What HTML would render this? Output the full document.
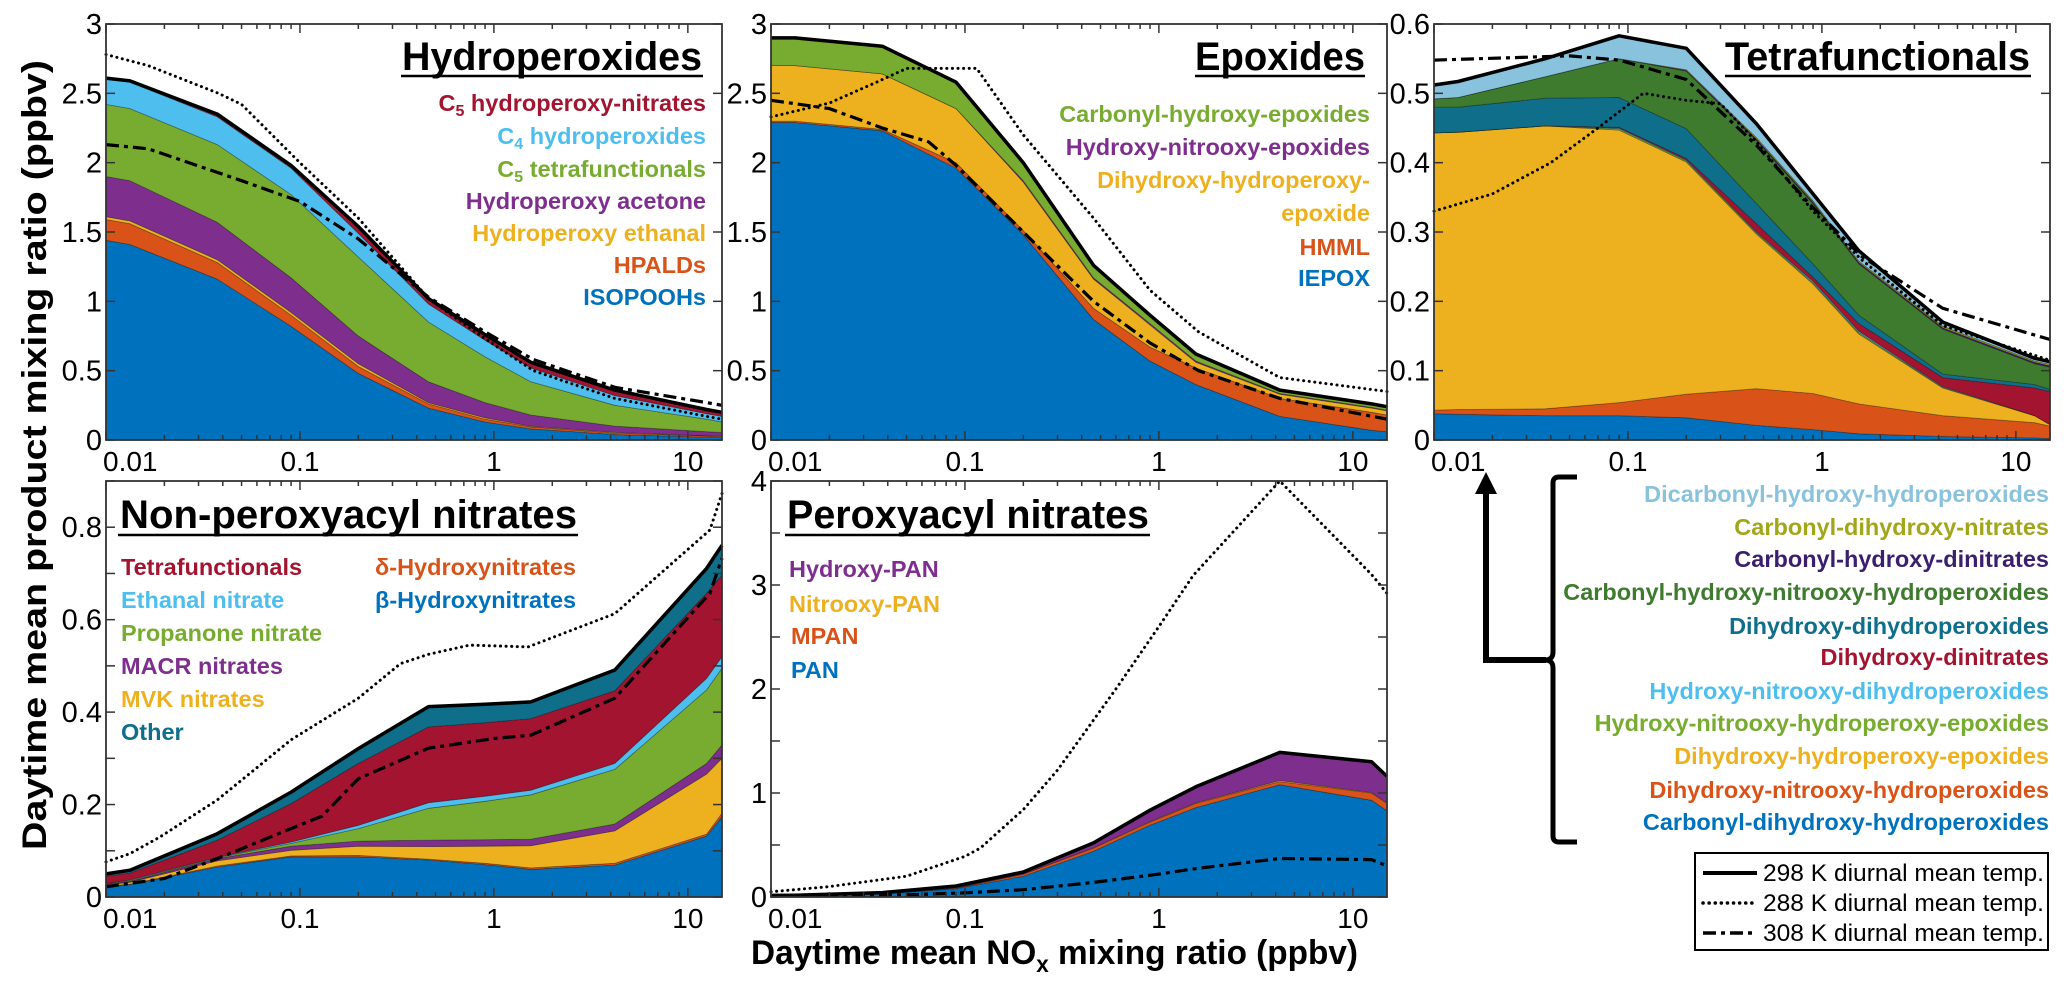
<!DOCTYPE html>
<html><head><meta charset="utf-8"><style>
html,body{margin:0;padding:0;background:#fff;}
svg{display:block;font-family:"Liberation Sans",sans-serif;}
</style></head><body>
<svg id="fig" width="2067" height="985" viewBox="0 0 2067 985" xmlns="http://www.w3.org/2000/svg">
<g id="layers"></g>
</svg>
<script>
// ---------- shared x grid (NOx, ppbv) ----------
const X = [0.01,0.0133,0.0375,0.09,0.2,0.46,0.9,1.55,4.2,12.5,15];
const xTickVals = [0.01,0.1,1,10];
const xTickLabels = ["0.01","0.1","1","10"];

// ---------- Panel 1: Hydroperoxides ----------
const hpIsopooh = [1.44,1.41,1.16,0.82,0.48,0.23,0.13,0.08,0.04,0.02,0.02];
const hpHpald   = [0.15,0.15,0.12,0.08,0.05,0.03,0.02,0.015,0.01,0.01,0.005];
const hpEthanal = [0.02,0.02,0.02,0.02,0.02,0.01,0.01,0.005,0.005,0.0,0.005];
const hpAcetone = [0.29,0.29,0.27,0.25,0.20,0.15,0.11,0.08,0.045,0.03,0.025];
const hpC5Tetra = [0.52,0.52,0.56,0.60,0.57,0.43,0.33,0.24,0.15,0.09,0.075];
const hpC4      = [0.18,0.19,0.20,0.19,0.17,0.13,0.12,0.10,0.07,0.04,0.04];
const hpC5Nitr  = [0.01,0.01,0.02,0.02,0.05,0.04,0.04,0.04,0.04,0.03,0.03];
const hpDotX = [0.01,0.0165,0.038,0.05,0.1,0.2,0.46,0.9,1.6,4.2,12.5,15];
const hpDotY = [2.78,2.70,2.50,2.42,2.00,1.60,1.02,0.73,0.50,0.30,0.17,0.15];
const hpDashX = [0.01,0.0165,0.0375,0.05,0.1,0.2,0.46,0.9,1.6,4.2,12.5,15];
const hpDashY = [2.13,2.10,1.93,1.87,1.72,1.45,1.03,0.78,0.58,0.38,0.27,0.25];
const hpYTicks = [0,0.5,1,1.5,2,2.5,3];
const hpYLabels = ["0","0.5","1","1.5","2","2.5","3"];

// ---------- Panel 2: Epoxides ----------
const epIepox = [2.29,2.29,2.23,1.96,1.48,0.87,0.57,0.40,0.17,0.07,0.06];
const epHmml  = [0.01,0.01,0.01,0.04,0.03,0.08,0.10,0.12,0.13,0.13,0.12];
const epDhhe  = [0.40,0.40,0.40,0.39,0.35,0.21,0.16,0.04,0.03,0.03,0.03];
const epHne   = [0,0,0,0,0.01,0.01,0.01,0.01,0.005,0.005,0.005];
const epChe   = [0.20,0.20,0.20,0.19,0.13,0.09,0.06,0.05,0.025,0.025,0.025];
const epDotX = [0.01,0.02,0.035,0.05,0.115,0.2,0.46,0.9,1.6,4.2,15];
const epDotY = [2.33,2.43,2.58,2.68,2.68,2.20,1.60,1.08,0.78,0.45,0.35];
const epDashX = [0.01,0.02,0.0375,0.065,0.09,0.2,0.46,0.9,1.6,4.2,15];
const epDashY = [2.45,2.39,2.25,2.15,1.98,1.50,1.00,0.70,0.50,0.30,0.15];
const epYTicks = [0,0.5,1,1.5,2,2.5,3];
const epYLabels = ["0","0.5","1","1.5","2","2.5","3"];

// ---------- Panel 3: Tetrafunctionals ----------
const tfCdhh = [0.038,0.037,0.035,0.035,0.032,0.021,0.015,0.009,0.005,0.003,0.002];
const tfDnhp = [0.005,0.007,0.010,0.019,0.034,0.053,0.052,0.043,0.030,0.022,0.018];
const tfDhhe = [0.400,0.400,0.408,0.393,0.335,0.223,0.158,0.101,0.040,0.010,0.002];
const tfHnhe = [0,0,0,0.002,0.002,0.002,0.002,0.002,0.001,0,0];
const tfHndh = [0,0,0,0.001,0.001,0.001,0.002,0.002,0.001,0,0];
const tfDhdn = [0,0,0,0.001,0.002,0.012,0.006,0.011,0.013,0.040,0.048];
const tfDhdh = [0.037,0.036,0.040,0.043,0.043,0.029,0.019,0.012,0.005,0.005,0.003];
const tfChnh = [0.012,0.014,0.031,0.056,0.083,0.091,0.087,0.074,0.065,0.030,0.032];
const tfChdn = [0,0,0,0,0.001,0.002,0.002,0.002,0.002,0.002,0.002];
const tfCdhn = [0,0,0,0,0.001,0.002,0.002,0.002,0.002,0.002,0.002];
const tfDchh = [0.020,0.023,0.026,0.033,0.031,0.020,0.010,0.015,0.006,0.004,0.004];
const tfDotX = [0.01,0.02,0.04,0.07,0.12,0.2,0.3,0.46,0.9,1.6,4.2,15];
const tfDotY = [0.33,0.355,0.40,0.45,0.50,0.49,0.485,0.43,0.33,0.26,0.165,0.115];
const tfDashX = [0.01,0.05,0.09,0.12,0.2,0.46,0.9,1.6,4.2,15];
const tfDashY = [0.548,0.554,0.548,0.538,0.52,0.425,0.335,0.265,0.19,0.145];
const tfYTicks = [0,0.1,0.2,0.3,0.4,0.5,0.6];
const tfYLabels = ["0","0.1","0.2","0.3","0.4","0.5","0.6"];

// ---------- Panel 4: Non-peroxyacyl nitrates ----------
const npBeta  = [0.022,0.027,0.065,0.087,0.087,0.080,0.070,0.060,0.069,0.132,0.174];
const npDelta = [0.001,0.001,0.002,0.002,0.003,0.002,0.003,0.003,0.004,0.004,0.007];
const npMvk   = [0.003,0.004,0.011,0.012,0.020,0.027,0.037,0.048,0.070,0.130,0.119];
const npMacr  = [0.002,0.002,0.005,0.009,0.011,0.014,0.014,0.014,0.015,0.023,0.029];
const npProp  = [0.001,0.002,0.002,0.006,0.027,0.069,0.083,0.096,0.118,0.159,0.166];
const npEth   = [0.0,0.001,0.001,0.003,0.007,0.012,0.011,0.010,0.013,0.025,0.025];
const npTetra = [0.016,0.015,0.037,0.083,0.134,0.164,0.159,0.155,0.157,0.184,0.176];
const npOther = [0.005,0.006,0.014,0.025,0.032,0.044,0.040,0.036,0.045,0.054,0.065];
const npDotX = [0.01,0.0133,0.019,0.0375,0.09,0.2,0.33,0.46,0.75,1.5,4.2,13,15];
const npDotY = [0.076,0.094,0.13,0.21,0.34,0.43,0.505,0.525,0.545,0.541,0.613,0.794,0.873];
const npDashX = [0.01,0.02,0.0375,0.09,0.13,0.2,0.46,1.0,1.55,4.2,13,15];
const npDashY = [0.022,0.04,0.083,0.148,0.175,0.256,0.322,0.343,0.35,0.43,0.657,0.733];
const npYTicks = [0,0.1,0.2,0.3,0.4,0.5,0.6,0.7,0.8,0.9];
const npYLabels = ["0","","0.2","","0.4","","0.6","","0.8",""];

// ---------- Panel 5: Peroxyacyl nitrates ----------
const paPan    = [0.01,0.012,0.03,0.08,0.20,0.44,0.69,0.86,1.08,0.93,0.83];
const paMpan   = [0,0,0.002,0.006,0.02,0.03,0.03,0.04,0.03,0.07,0.07];
const paNitro  = [0,0,0,0,0,0.003,0.005,0.005,0.01,0.005,0.005];
const paHydroxy= [0.005,0.005,0.01,0.02,0.02,0.047,0.11,0.155,0.27,0.295,0.255];
const paDotX = [0.01,0.02,0.05,0.1,0.12,0.2,0.3,0.6,1.0,1.5,4.2,12.5,15];
const paDotY = [0.05,0.10,0.20,0.39,0.47,0.84,1.22,2.0,2.6,3.09,4.0,3.1,2.92];
const paDashX = [0.01,0.05,0.1,0.2,0.46,1.0,1.5,4.2,12.5,15];
const paDashY = [0.01,0.02,0.04,0.07,0.14,0.22,0.27,0.37,0.36,0.30];
const paYTicks = [0,0.5,1,1.5,2,2.5,3,3.5,4];
const paYLabels = ["0","","1","","2","","3","","4"];

// ---------- rendering ----------
const NS = "http://www.w3.org/2000/svg";
const root = document.getElementById("layers");
const C = {blue:"#0072bd",orange:"#d95319",yellow:"#edb120",purple:"#7e2f8e",green:"#77ac30",
  lblue:"#4dbeee",red:"#a2142f",teal:"#0f6e8a",dgreen:"#3e7b2e",pale:"#89c2dc",olive:"#a2a619",dpurple:"#3b1e6e"};

function mk(tag, attrs, parent){
  const e = document.createElementNS(NS, tag);
  for (const k in attrs) e.setAttribute(k, attrs[k]);
  (parent||root).appendChild(e);
  return e;
}
function makeAxes(x0,y0,w,h,ymax){
  const lx0 = Math.log10(0.01), lx1 = Math.log10(15);
  return {
    sx: v => x0 + (Math.log10(v)-lx0)/(lx1-lx0)*w,
    sy: v => y0 + h - v/ymax*h,
    x0, y0, w, h
  };
}
function drawPanel(ax, name, layers, colors, dotX, dotY, dashX, dashY, yTicks, yLabels){
  const g = mk("g",{});
  
  
  let cum = X.map(()=>0);
  layers.forEach((L,i)=>{
    const lower = cum.slice();
    const upper = cum.map((c,j)=>c+L[j]);
    let pts = X.map((x,j)=>ax.sx(x).toFixed(1)+","+ax.sy(upper[j]).toFixed(1));
    for (let j=X.length-1;j>=0;j--) pts.push(ax.sx(X[j]).toFixed(1)+","+ax.sy(lower[j]).toFixed(1));
    const p = mk("polygon",{points:pts.join(" "),fill:colors[i],stroke:"rgba(0,0,0,0.35)","stroke-width":"0.8"},g);
    
    
    cum = upper;
  });
  const tot = mk("polyline",{points:X.map((x,j)=>ax.sx(x).toFixed(1)+","+ax.sy(cum[j]).toFixed(1)).join(" "),fill:"none",stroke:"#000","stroke-width":"3.5","stroke-linejoin":"round"},g);
  
  
  const dot = mk("polyline",{points:dotX.map((x,j)=>ax.sx(x).toFixed(1)+","+ax.sy(dotY[j]).toFixed(1)).join(" "),fill:"none",stroke:"#000","stroke-width":"3","stroke-dasharray":"0.1 5.5","stroke-linecap":"round"},g);
  
  
  const dash = mk("polyline",{points:dashX.map((x,j)=>ax.sx(x).toFixed(1)+","+ax.sy(dashY[j]).toFixed(1)).join(" "),fill:"none",stroke:"#000","stroke-width":"3.2","stroke-dasharray":"13 5 4 5"},g);
  
  
  const fr = mk("rect",{x:ax.x0,y:ax.y0,width:ax.w,height:ax.h,fill:"none",stroke:"#333","stroke-width":"1.8"},g);
  
  
  const tg = mk("g",{stroke:"#333","stroke-width":"1.5"},g);
  
  
  for (let d=-2; d<=1; d++){
    for (let k=1;k<=9;k++){
      const v = k*Math.pow(10,d);
      if (v>15.01) continue;
      const xx = ax.sx(v), L = k===1?9:5;
      mk("line",{x1:xx,x2:xx,y1:ax.y0+ax.h,y2:ax.y0+ax.h-L},tg);
      mk("line",{x1:xx,x2:xx,y1:ax.y0,y2:ax.y0+L},tg);
    }
  }
  yTicks.forEach(v=>{
    const yy = ax.sy(v);
    mk("line",{x1:ax.x0,x2:ax.x0+9,y1:yy,y2:yy},tg);
    mk("line",{x1:ax.x0+ax.w,x2:ax.x0+ax.w-9,y1:yy,y2:yy},tg);
  });
  xTickVals.forEach((v,i)=>{
    let xx = ax.sx(v), anchor="middle";
    if (i===0){ xx = ax.x0-3; anchor="start"; }
    const t = mk("text",{x:xx,y:ax.y0+ax.h+31,"font-size":"28","text-anchor":anchor,fill:"#000"},g);
    t.textContent = xTickLabels[i];
    
    
  });
  yTicks.forEach((v,i)=>{
    if (!yLabels[i]) return;
    const t = mk("text",{x:ax.x0-4,y:ax.sy(v)+10,"font-size":"29","text-anchor":"end",fill:"#000"},g);
    t.textContent = yLabels[i];
    
    
  });
}

const ax1 = makeAxes(106,24,616,416,3);
const ax2 = makeAxes(771,24,616,416,3);
const ax3 = makeAxes(1434,24,616,416,0.6);
const ax4 = makeAxes(106,481,616,416,0.9);
const ax5 = makeAxes(771,481,616,416,4);

drawPanel(ax1,"hydroperoxides-panel",[hpIsopooh,hpHpald,hpEthanal,hpAcetone,hpC5Tetra,hpC4,hpC5Nitr],
  [C.blue,C.orange,C.yellow,C.purple,C.green,C.lblue,C.red],hpDotX,hpDotY,hpDashX,hpDashY,hpYTicks,hpYLabels);
drawPanel(ax2,"epoxides-panel",[epIepox,epHmml,epDhhe,epHne,epChe],
  [C.blue,C.orange,C.yellow,C.purple,C.green],epDotX,epDotY,epDashX,epDashY,epYTicks,epYLabels);
drawPanel(ax3,"tetrafunctionals-panel",[tfCdhh,tfDnhp,tfDhhe,tfHnhe,tfHndh,tfDhdn,tfDhdh,tfChnh,tfChdn,tfCdhn,tfDchh],
  [C.blue,C.orange,C.yellow,C.green,C.lblue,C.red,C.teal,C.dgreen,C.dpurple,C.olive,C.pale],tfDotX,tfDotY,tfDashX,tfDashY,tfYTicks,tfYLabels);
drawPanel(ax4,"non-pan-nitrates-panel",[npBeta,npDelta,npMvk,npMacr,npProp,npEth,npTetra,npOther],
  [C.blue,C.orange,C.yellow,C.purple,C.green,C.lblue,C.red,C.teal],npDotX,npDotY,npDashX,npDashY,npYTicks,npYLabels);
drawPanel(ax5,"pan-panel",[paPan,paMpan,paNitro,paHydroxy],
  [C.blue,C.orange,C.yellow,C.purple],paDotX,paDotY,paDashX,paDashY,paYTicks,paYLabels);
</script>

<svg style="position:absolute;left:0;top:0" width="2067" height="985" xmlns="http://www.w3.org/2000/svg" font-family="Liberation Sans, sans-serif">
  <g font-weight="bold" font-size="40" fill="#000">
    <text x="702" y="70" text-anchor="end" textLength="300" lengthAdjust="spacingAndGlyphs">Hydroperoxides</text>
    <text x="1365" y="70" text-anchor="end" textLength="170" lengthAdjust="spacingAndGlyphs">Epoxides</text>
    <text x="2030" y="70" text-anchor="end" textLength="305" lengthAdjust="spacingAndGlyphs">Tetrafunctionals</text>
    <text x="120" y="528" textLength="457" lengthAdjust="spacingAndGlyphs">Non-peroxyacyl nitrates</text>
    <text x="787" y="528" textLength="362" lengthAdjust="spacingAndGlyphs">Peroxyacyl nitrates</text>
  </g>
  <g stroke="#000" stroke-width="2.5">
    <line x1="401" x2="703" y1="76" y2="76"/>
    <line x1="1195" x2="1365" y1="76" y2="76"/>
    <line x1="1725" x2="2031" y1="76" y2="76"/>
    <line x1="118" x2="578" y1="535" y2="535"/>
    <line x1="785" x2="1150" y1="535" y2="535"/>
  </g>
  <g font-weight="bold" font-size="23.5" text-anchor="end">
    <text x="706" y="111" fill="#a2142f">C<tspan font-size="16" dy="5">5</tspan><tspan dy="-5"> hydroperoxy-nitrates</tspan></text>
    <text x="706" y="144" fill="#4dbeee">C<tspan font-size="16" dy="5">4</tspan><tspan dy="-5"> hydroperoxides</tspan></text>
    <text x="706" y="177" fill="#77ac30">C<tspan font-size="16" dy="5">5</tspan><tspan dy="-5"> tetrafunctionals</tspan></text>
    <text x="706" y="209" fill="#7e2f8e">Hydroperoxy acetone</text>
    <text x="706" y="241" fill="#edb120">Hydroperoxy ethanal</text>
    <text x="706" y="273" fill="#d95319">HPALDs</text>
    <text x="706" y="305" fill="#0072bd">ISOPOOHs</text>
  </g>
  <g font-weight="bold" font-size="23.5" text-anchor="end">
    <text x="1370" y="122" fill="#77ac30">Carbonyl-hydroxy-epoxides</text>
    <text x="1370" y="155" fill="#7e2f8e">Hydroxy-nitrooxy-epoxides</text>
    <text x="1370" y="188" fill="#edb120">Dihydroxy-hydroperoxy-</text>
    <text x="1370" y="221" fill="#edb120">epoxide</text>
    <text x="1370" y="255" fill="#d95319">HMML</text>
    <text x="1370" y="286" fill="#0072bd">IEPOX</text>
  </g>
  <g font-weight="bold" font-size="23.5">
    <text x="121" y="575" fill="#a2142f">Tetrafunctionals</text>
    <text x="121" y="608" fill="#4dbeee">Ethanal nitrate</text>
    <text x="121" y="641" fill="#77ac30">Propanone nitrate</text>
    <text x="121" y="674" fill="#7e2f8e">MACR nitrates</text>
    <text x="121" y="707" fill="#edb120">MVK nitrates</text>
    <text x="121" y="740" fill="#0f6e8a">Other</text>
    <text x="375" y="575" fill="#d95319">δ-Hydroxynitrates</text>
    <text x="375" y="608" fill="#0072bd">β-Hydroxynitrates</text>
  </g>
  <g font-weight="bold" font-size="23.5">
    <text x="789" y="577" fill="#7e2f8e">Hydroxy-PAN</text>
    <text x="789" y="612" fill="#edb120">Nitrooxy-PAN</text>
    <text x="791" y="644" fill="#d95319">MPAN</text>
    <text x="791" y="678" fill="#0072bd">PAN</text>
  </g>
  <g font-weight="bold" font-size="23.5" text-anchor="end">
    <text x="2049" y="502" fill="#89c2dc">Dicarbonyl-hydroxy-hydroperoxides</text>
    <text x="2049" y="535" fill="#a2a619">Carbonyl-dihydroxy-nitrates</text>
    <text x="2049" y="567" fill="#3b1e6e">Carbonyl-hydroxy-dinitrates</text>
    <text x="2049" y="600" fill="#3e7b2e">Carbonyl-hydroxy-nitrooxy-hydroperoxides</text>
    <text x="2049" y="634" fill="#0f6e8a">Dihydroxy-dihydroperoxides</text>
    <text x="2049" y="665" fill="#a2142f">Dihydroxy-dinitrates</text>
    <text x="2049" y="699" fill="#4dbeee">Hydroxy-nitrooxy-dihydroperoxides</text>
    <text x="2049" y="731" fill="#77ac30">Hydroxy-nitrooxy-hydroperoxy-epoxides</text>
    <text x="2049" y="764" fill="#edb120">Dihydroxy-hydroperoxy-epoxides</text>
    <text x="2049" y="798" fill="#d95319">Dihydroxy-nitrooxy-hydroperoxides</text>
    <text x="2049" y="830" fill="#0072bd">Carbonyl-dihydroxy-hydroperoxides</text>
  </g>
  <path d="M1577,477 L1559,477 Q1553,477 1553,483 L1553,652 Q1553,660 1545,660 Q1553,660 1553,668 L1553,836 Q1553,842 1559,842 L1577,842" fill="none" stroke="#000" stroke-width="5"/>
  <path d="M1546,660 L1486,660 L1486,492" fill="none" stroke="#000" stroke-width="6"/>
  <polygon points="1475,494 1497,494 1486,472" fill="#000"/>
  <g>
    <rect x="1695" y="853" width="353" height="97" fill="#fff" stroke="#000" stroke-width="2"/>
    <line x1="1703" x2="1757" y1="873" y2="873" stroke="#000" stroke-width="4"/>
    <line x1="1703" x2="1757" y1="903" y2="903" stroke="#000" stroke-width="3.5" stroke-dasharray="0.1 6" stroke-linecap="round"/>
    <line x1="1703" x2="1757" y1="933" y2="933" stroke="#000" stroke-width="3.5" stroke-dasharray="13 5 4 5"/>
    <text x="1763" y="881" font-size="24" textLength="281" lengthAdjust="spacingAndGlyphs">298 K diurnal mean temp.</text>
    <text x="1763" y="911" font-size="24" textLength="281" lengthAdjust="spacingAndGlyphs">288 K diurnal mean temp.</text>
    <text x="1763" y="941" font-size="24" textLength="281" lengthAdjust="spacingAndGlyphs">308 K diurnal mean temp.</text>
  </g>
  <text transform="translate(46,455) rotate(-90)" text-anchor="middle" font-size="34" font-weight="bold" textLength="790" lengthAdjust="spacingAndGlyphs">Daytime mean product mixing ratio (ppbv)</text>
  <text x="751" y="964" font-size="34" font-weight="bold" textLength="607" lengthAdjust="spacingAndGlyphs">Daytime mean NO<tspan font-size="23" dy="8">x</tspan><tspan dy="-8"> mixing ratio (ppbv)</tspan></text>
</svg>
</body></html>
